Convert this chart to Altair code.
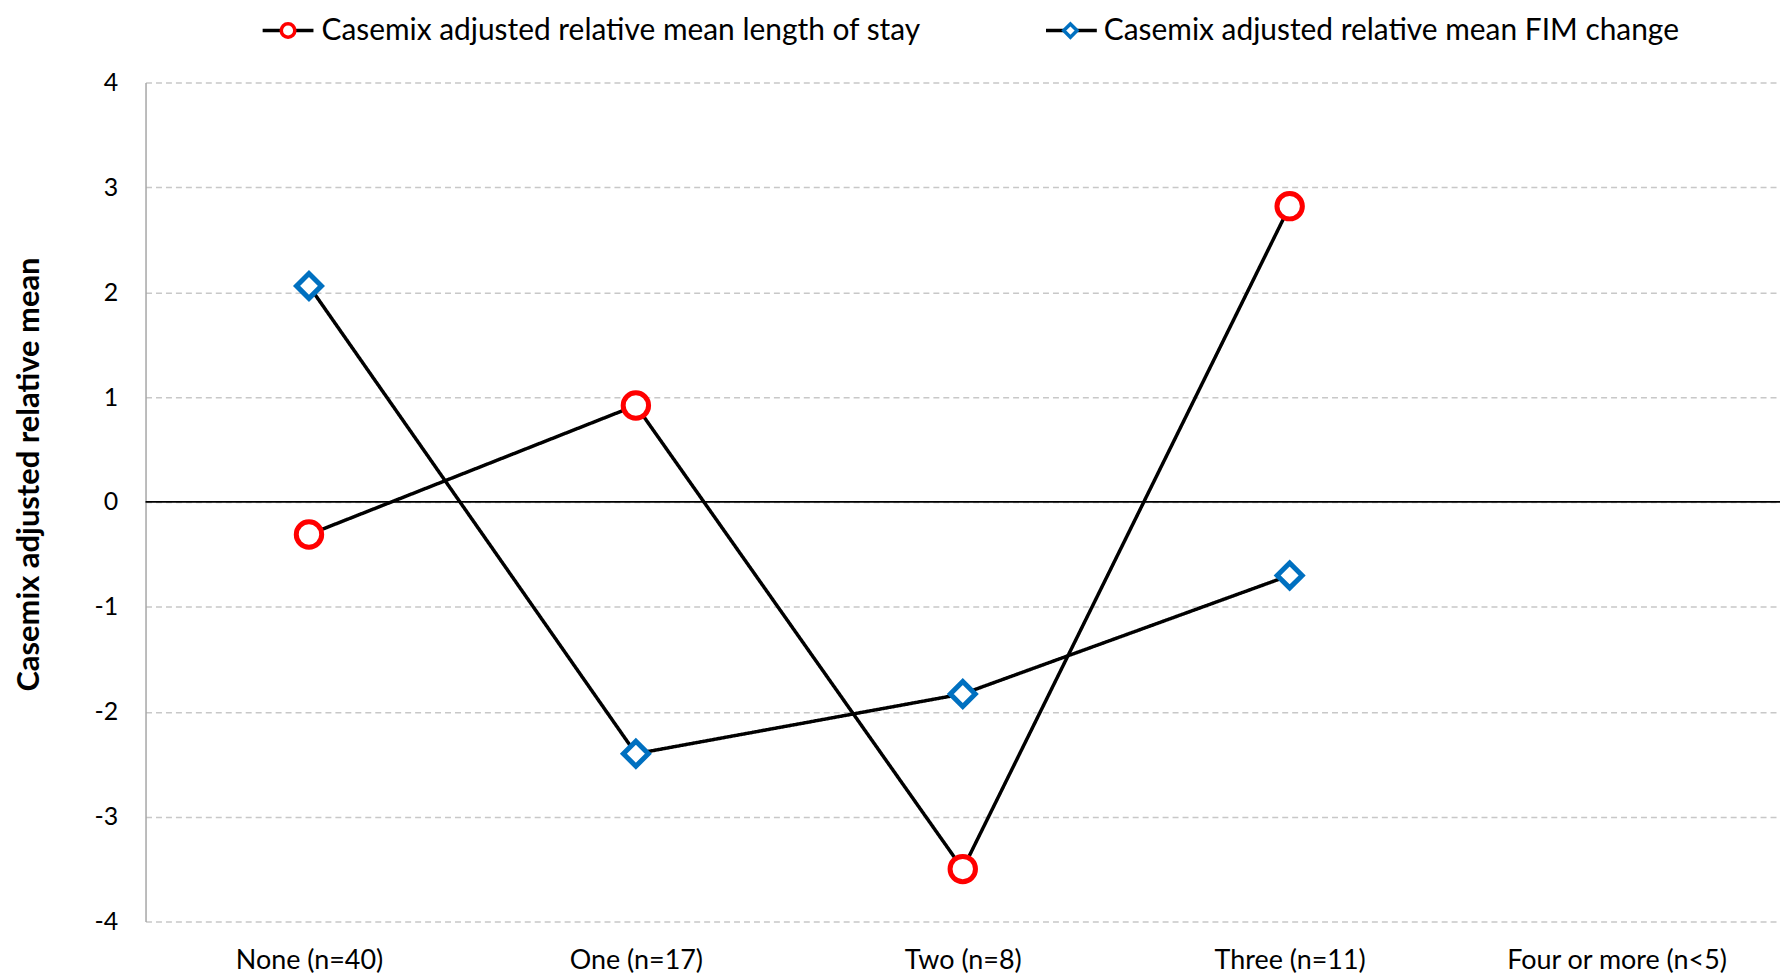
import altair as alt
import pandas as pd

categories = ["None (n=40)", "One (n=17)", "Two (n=8)", "Three (n=11)", "Four or more (n<5)"]
series_names = ["Casemix adjusted relative mean length of stay",
                "Casemix adjusted relative mean FIM change"]
los_values = [-0.31, 0.92, -3.50, 2.82, None]
fim_values = [2.06, -2.40, -1.83, -0.70, None]
y_ticks = [-4, -3, -2, -1, 0, 1, 2, 3, 4]

rows = []
for c, v in zip(categories, los_values):
    if v is not None:
        rows.append({"cat": c, "series": series_names[0], "value": v})
for c, v in zip(categories, fim_values):
    if v is not None:
        rows.append({"cat": c, "series": series_names[1], "value": v})
df = pd.DataFrame(rows)
# a twin field (trailing space) so that the line legend stays separate from the marker legend
df["series_line"] = df["series"] + " "
line_names = [s + " " for s in series_names]

FONT = "Lato"

x_enc = alt.X("cat:N", sort=categories, scale=alt.Scale(domain=categories, type="point", padding=0.5),
              axis=alt.Axis(title=None, labelAngle=0, domain=False, ticks=False, grid=False,
                            labelFontSize=27, labelPadding=26, labelColor="#000000", labelFont=FONT,
                            labelLimit=1000))
y_enc = alt.Y("value:Q", scale=alt.Scale(domain=[-4, 4], nice=False, zero=False),
              axis=alt.Axis(title="Casemix adjusted relative mean", values=y_ticks,
                            labelExpr="'' + datum.value", titleY=393,
                            titleFont=FONT, titleFontSize=31, titleFontWeight="bold", titleColor="#000000",
                            titlePadding=49, labelFont=FONT, labelFontSize=25, labelColor="#000000",
                            labelPadding=28, ticks=False, domain=True, domainColor="#A6A6A6",
                            domainWidth=1.5, grid=True, gridColor="#C8C8C8", gridDash=[6, 4],
                            gridWidth=1.5))

LEG_X, LEG_Y, SYM, LAB_OFF = 126, -69, 900, 16.5

zero = alt.Chart(pd.DataFrame({"z": [0]})).mark_rule(color="#000000", strokeWidth=1.8).encode(
    y=alt.Y("z:Q", scale=alt.Scale(domain=[-4, 4])))

line_legend = alt.Legend(title=None, orient="none", direction="horizontal",
                         legendX=LEG_X, legendY=LEG_Y, labelFont=FONT, labelFontSize=30,
                         labelExpr="''", labelLimit=1000, columnPadding=719,
                         symbolType="M -1.7 0 L 1.7 0",
                         symbolSize=SYM, symbolStrokeWidth=3.5, symbolStrokeColor="#000000",
                         labelOffset=LAB_OFF)

lines = alt.Chart(df).mark_line(color="#000000", strokeWidth=3.5).encode(
    x=x_enc, y=y_enc,
    strokeDash=alt.StrokeDash("series_line:N",
                              scale=alt.Scale(domain=line_names, range=[[1, 0], [1, 0]]),
                              legend=line_legend))

# marker shapes in the unit square
CIRCLE = "M -0.453 0 A 0.453 0.453 0 1 0 0.453 0 A 0.453 0.453 0 1 0 -0.453 0 Z"
DIAMOND = "M 0 -0.445 L 0.445 0 L 0 0.445 L -0.445 0 Z"
shape_scale = alt.Scale(domain=series_names, range=[CIRCLE, DIAMOND])
color_scale = alt.Scale(domain=series_names, range=["#FF0000", "#0070C0"])

point_legend = alt.Legend(title=None, orient="none", direction="horizontal",
                          legendX=LEG_X, legendY=LEG_Y, labelFont=FONT, labelFontSize=30,
                          labelColor="#000000", labelLimit=1000, columnPadding=132,
                          symbolSize=SYM, symbolStrokeWidth=3.5, symbolFillColor="white",
                          labelOffset=LAB_OFF)

points = alt.Chart(df).mark_point(filled=True, fill="white", strokeWidth=5, size=3168, opacity=1).encode(
    x=x_enc, y=y_enc,
    stroke=alt.Stroke("series:N", scale=color_scale, legend=point_legend),
    shape=alt.Shape("series:N", scale=shape_scale, legend=point_legend),
)

chart = alt.layer(zero, lines, points).properties(
    width=1640, height=842, padding={"left": 5, "top": 4, "right": 0, "bottom": 0}
).configure(font=FONT).configure_view(stroke=None)

chart.save("out.html", embed_options={"renderer": "svg", "actions": False})
